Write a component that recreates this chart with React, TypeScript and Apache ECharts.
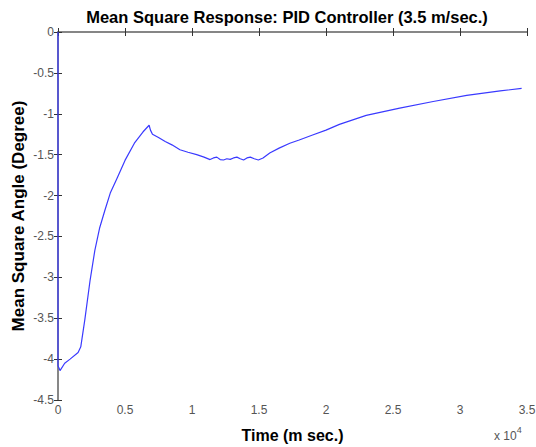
import React, { useEffect, useRef } from "react";
import * as echarts from "echarts";

const titleText = "Mean Square Response: PID Controller (3.5 m/sec.)";
const xName = "Time (m sec.)";
const yName = "Mean Square Angle (Degree)";

const timeMs: number[] = [
  0, 0, 150, 500, 900, 1500, 1700, 2000, 2400, 2750, 3100, 3500, 3900, 4400, 5000, 5700,
  6350, 6800, 6900, 7050, 7500, 8000, 8500, 9100, 9700, 10350, 10900, 11350, 11600, 11850,
  12100, 12350, 12600, 12850, 13100, 13350, 13600, 13850, 14100, 14350, 14650, 14950, 15300,
  15800, 16500, 17300, 18000, 19000, 20000, 21000, 23000, 25500, 28000, 30500, 33000, 34600,
];
const angle: number[] = [
  0, -4.08, -4.14, -4.05, -4.0, -3.92, -3.85, -3.52, -3.03, -2.67, -2.4, -2.18, -1.97, -1.79,
  -1.57, -1.36, -1.22, -1.14, -1.2, -1.25, -1.29, -1.34, -1.38, -1.44, -1.47, -1.5, -1.53,
  -1.56, -1.54, -1.53, -1.56, -1.565, -1.55, -1.557, -1.54, -1.53, -1.55, -1.565, -1.54,
  -1.53, -1.55, -1.565, -1.54, -1.48, -1.42, -1.36, -1.32, -1.26, -1.2, -1.13, -1.02, -0.93,
  -0.85, -0.775, -0.72, -0.69,
];

const FONT = "Liberation Sans, Arial, sans-serif";

export default function App() {
  const ref = useRef<HTMLDivElement>(null);
  useEffect(() => {
    if (!ref.current) return;
    const chart = echarts.init(ref.current, undefined, { renderer: "svg" });
    const axisLine = { show: true, lineStyle: { color: "#7f7f7f", width: 1.5 } };
    const tick = { show: true, inside: true, length: 4, lineStyle: { color: "#333", width: 1 } };
    chart.setOption({
      animation: false,
      backgroundColor: "#ffffff",
      title: {
        text: titleText,
        left: 282,
        textAlign: "center",
        top: 3,
        textStyle: { fontFamily: FONT, fontSize: 16.5, fontWeight: "bold", color: "#000" },
      },
      grid: { left: 58, top: 32, right: 9, bottom: 47, containLabel: false, outerBoundsMode: "none" },
      xAxis: [
        {
          type: "value",
          min: 0,
          max: 35000,
          interval: 5000,
          name: xName,
          nameLocation: "middle",
          nameGap: 27,
          nameMoveOverlap: false,
          nameTextStyle: { fontFamily: FONT, fontSize: 16, fontWeight: "bold", color: "#000" },
          axisLine,
          axisTick: tick,
          splitLine: { show: false },
          axisLabel: {
            fontFamily: FONT,
            fontSize: 12,
            color: "#555",
            margin: 4,
            showMinLabel: true,
            showMaxLabel: true,
            formatter: (v: number) => String(v / 10000),
          },
        },
        {
          type: "value",
          position: "top",
          min: 0,
          max: 35000,
          interval: 5000,
          axisLine,
          axisTick: tick,
          axisLabel: { show: false },
          splitLine: { show: false },
        },
      ],
      yAxis: [
        {
          type: "value",
          min: -4.5,
          max: 0,
          interval: 0.5,
          name: yName,
          nameLocation: "middle",
          nameGap: 31,
          nameMoveOverlap: false,
          nameRotate: 90,
          nameTextStyle: { fontFamily: FONT, fontSize: 17, fontWeight: "bold", color: "#000" },
          axisLine,
          axisTick: tick,
          splitLine: { show: false },
          axisLabel: { fontFamily: FONT, fontSize: 12, color: "#555", margin: 4 },
        },
        {
          type: "value",
          position: "right",
          min: -4.5,
          max: 0,
          interval: 0.5,
          axisLine,
          axisTick: tick,
          axisLabel: { show: false },
          splitLine: { show: false },
        },
      ],
      graphic: [
        {
          type: "text",
          left: 494,
          top: 425,
          style: {
            text: "{a|x 10}{b|4}",
            rich: {
              a: { fontFamily: FONT, fontSize: 12, fill: "#555", padding: [5, 0, 0, 0] },
              b: { fontFamily: FONT, fontSize: 9, fill: "#555", verticalAlign: "top" },
            },
          },
        },
      ],
      series: [
        {
          type: "line",
          data: timeMs.map((t, i) => [t, angle[i]]),
          showSymbol: false,
          symbol: "none",
          lineStyle: { color: "#3a3aff", width: 1.2 },
          z: 5,
        },
      ],
    });
    return () => chart.dispose();
  }, []);
  return <div ref={ref} style={{ width: 536, height: 447, position: "absolute", left: 0, top: 0 }} />;
}
